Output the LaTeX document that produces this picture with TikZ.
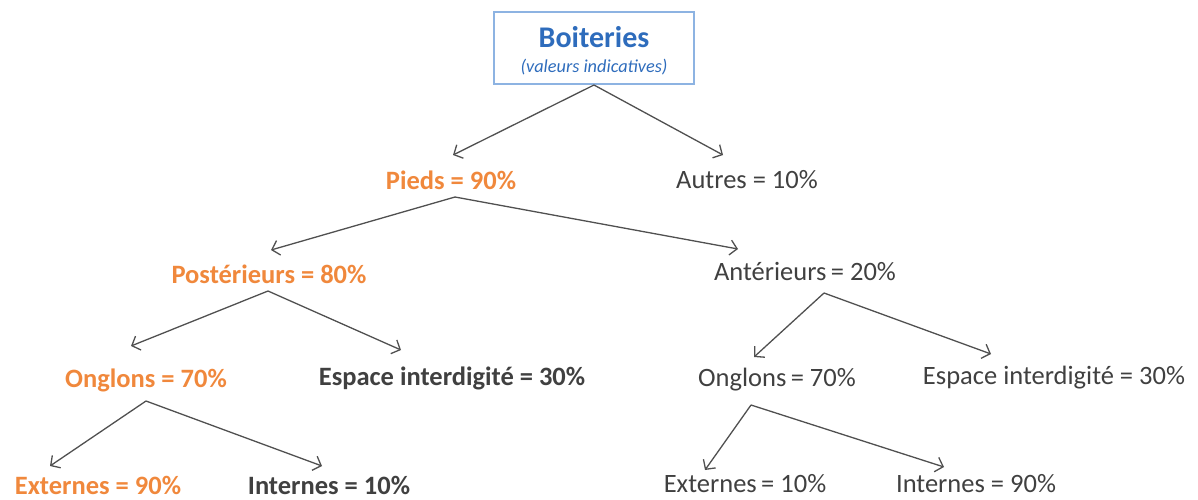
\documentclass[tikz,border=0pt]{standalone}
\usepackage{fontspec}
\setmainfont{Carlito}
\usetikzlibrary{arrows.meta}
\definecolor{orng}{HTML}{F0883C}
\definecolor{dgray}{HTML}{404040}
\definecolor{tblue}{HTML}{2E6CBC}
\definecolor{bblue}{HTML}{8DB3E2}
\definecolor{lgray}{HTML}{505050}
\tikzset{
  lbl/.style={inner sep=0pt, anchor=center, font=\fontsize{26.5}{30}\selectfont, text=dgray},
  hot/.style={lbl, font=\fontsize{26.5}{30}\selectfont\bfseries, text=orng},
  bold/.style={lbl, font=\fontsize{26.5}{30}\selectfont\bfseries, text=dgray},
  arr/.style={draw=lgray, line width=1.3pt, -{Straight Barb[length=7pt,width=15pt,line width=1.3pt]}},
}
\begin{document}
\begin{tikzpicture}[x=1pt,y=-1pt]
\useasboundingbox (0,0) rectangle (1198,499);
\node[draw=bblue, line width=1.2pt, minimum width=200pt, minimum height=72pt, inner sep=0pt] (root) at (594,48) {};
\node[inner sep=0pt, font=\fontsize{30}{34}\selectfont\bfseries, text=tblue] (t1) at (594,37) {Boiteries};
\node[inner sep=0pt, font=\fontsize{18.3}{20}\selectfont\itshape, text=tblue] (t2) at (594,67) {(valeurs indicatives)};

\node[hot] (pieds) at (451,180) {Pieds = 90\%};
\node[lbl] (autres) at (747,180) {Autres = 10\%};
\node[hot] (post) at (269,274) {Postérieurs = 80\%};
\node[lbl] (ant) at (805,271) {Antérieurs\,= 20\%};
\node[hot] (ongL) at (146,380) {Onglons = 70\%};
\node[bold] (espL) at (452,378) {Espace interdigité = 30\%};
\node[lbl] (ongR) at (777,380) {Onglons\,= 70\%};
\node[lbl] (espR) at (1054,378) {Espace interdigité = 30\%};
\node[hot] (extL) at (98,485) {Externes = 90\%};
\node[bold] (intL) at (329,485) {Internes = 10\%};
\node[lbl] (extR) at (745,484) {Externes\,= 10\%};
\node[lbl] (intR) at (976,484) {Internes = 90\%};

\coordinate (s0) at (594,85);
\coordinate (e0a) at (453,155);
\coordinate (e0b) at (723,155);
\coordinate (s1) at (455,197);
\coordinate (e1a) at (271,250);
\coordinate (e1b) at (738,249);
\coordinate (s2) at (268,291);
\coordinate (e2a) at (131,346);
\coordinate (e2b) at (401,350);
\coordinate (s3) at (824,293);
\coordinate (e3a) at (754,357);
\coordinate (e3b) at (991,354);
\coordinate (s4) at (146,401);
\coordinate (e4a) at (50,466);
\coordinate (e4b) at (322,466);
\coordinate (s5) at (751,405);
\coordinate (e5a) at (705,470);
\coordinate (e5b) at (944,467);

\draw[arr] (s0) -- (e0a);
\draw[arr] (s0) -- (e0b);
\draw[arr] (s1) -- (e1a);
\draw[arr] (s1) -- (e1b);
\draw[arr] (s2) -- (e2a);
\draw[arr] (s2) -- (e2b);
\draw[arr] (s3) -- (e3a);
\draw[arr] (s3) -- (e3b);
\draw[arr] (s4) -- (e4a);
\draw[arr] (s4) -- (e4b);
\draw[arr] (s5) -- (e5a);
\draw[arr] (s5) -- (e5b);
\end{tikzpicture}
\end{document}
